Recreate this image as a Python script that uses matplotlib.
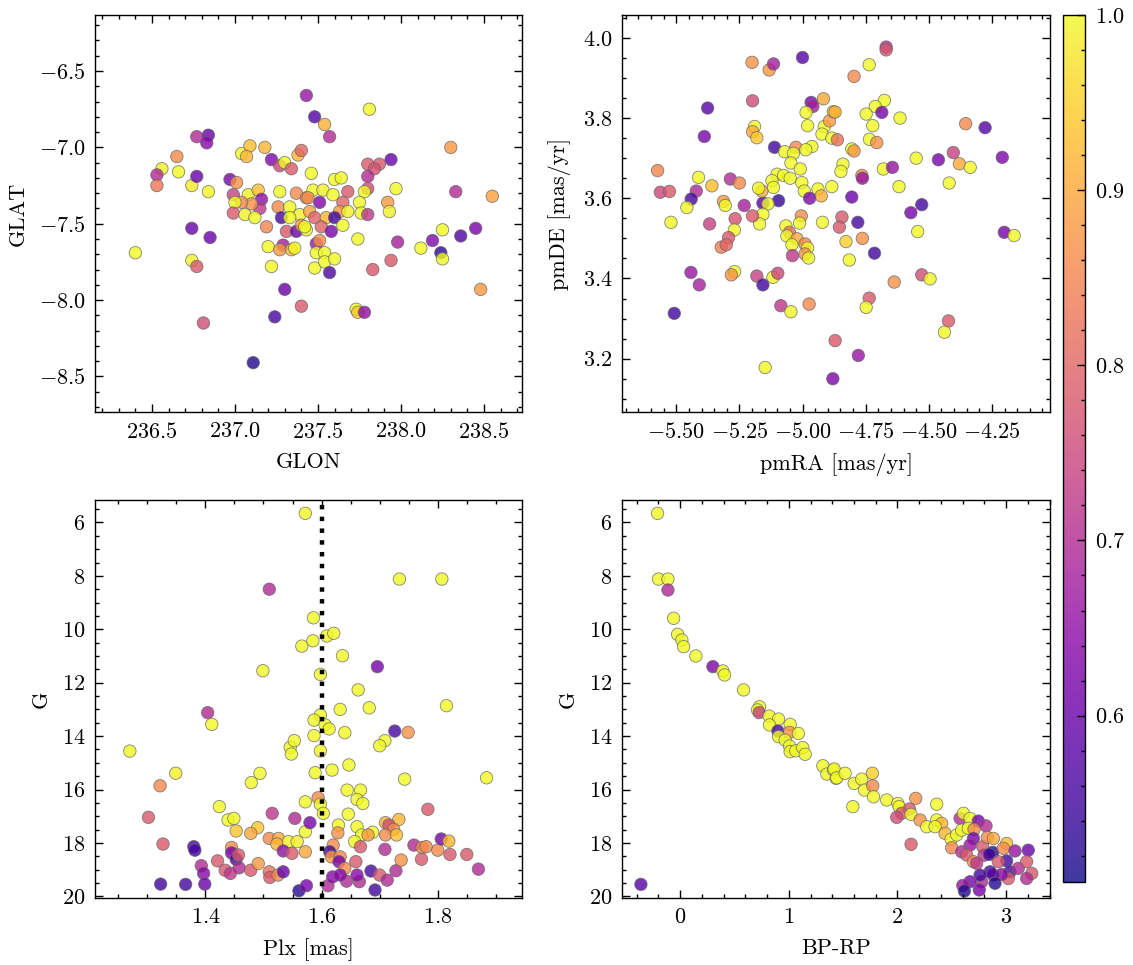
import numpy as np
import matplotlib
matplotlib.use("Agg")
import matplotlib.pyplot as plt
from matplotlib.ticker import MultipleLocator

# Serif look, ticks inside on all sides
plt.rcParams.update({
    "font.family": "serif",
    "font.serif": ["cmr10", "DejaVu Serif"],
    "mathtext.fontset": "cm",
    "axes.formatter.use_mathtext": True,
    "font.size": 8,
    "axes.linewidth": 0.5,
    "xtick.direction": "in",
    "ytick.direction": "in",
    "xtick.top": True,
    "ytick.right": True,
    "xtick.major.size": 3,
    "ytick.major.size": 3,
    "xtick.minor.size": 1.5,
    "ytick.minor.size": 1.5,
    "xtick.major.width": 0.5,
    "ytick.major.width": 0.5,
    "xtick.minor.width": 0.5,
    "ytick.minor.width": 0.5,
    "xtick.minor.visible": True,
    "ytick.minor.visible": True,
})

# ---- panel 1: sky position ----
glon = [237.43, 237.48, 237.54, 237.57, 237.81, 236.77, 236.84, 236.83, 236.65, 236.56,
        236.53, 236.53, 236.66, 236.74, 236.77, 236.84, 237.04, 237.09, 237.07, 237.18,
        237.22, 237.27, 237.30, 237.34, 237.38, 237.40, 236.97, 237.01, 236.99, 237.08,
        237.14, 237.16, 237.15, 237.10, 237.04, 237.00, 236.99, 237.06, 237.12, 237.27,
        237.37, 237.43, 237.26, 237.33, 237.39, 237.28, 237.19, 237.33, 237.31, 237.37,
        237.40, 237.43, 237.20, 237.29, 237.27, 237.34, 237.36, 237.22, 236.74, 236.85,
        236.40, 236.74, 236.77, 237.30, 237.40, 237.24, 236.81, 237.11, 237.46, 237.60,
        237.64, 237.47, 237.53, 237.44, 237.51, 237.59, 237.68, 237.65, 237.63, 237.68,
        237.45, 237.48, 237.55, 237.60, 237.52, 237.42, 237.65, 237.58, 237.49, 237.51,
        237.49, 237.54, 237.48, 237.54, 237.60, 237.57, 237.80, 237.87, 237.84, 237.94,
        237.80, 237.80, 237.78, 237.97, 237.92, 237.93, 237.75, 237.76, 237.80, 237.74,
        237.98, 237.94, 237.83, 237.73, 237.74, 237.78, 238.30, 238.33, 238.55, 238.25,
        238.36, 238.45, 238.12, 238.19, 238.24, 238.25, 238.48]
glat = [-6.66, -6.80, -6.85, -6.93, -6.75, -6.93, -6.92, -6.97, -7.06, -7.14,
        -7.18, -7.25, -7.16, -7.25, -7.19, -7.29, -7.04, -6.99, -7.06, -7.00,
        -7.08, -7.12, -7.10, -7.14, -7.05, -7.02, -7.21, -7.23, -7.31, -7.31,
        -7.28, -7.34, -7.40, -7.37, -7.36, -7.36, -7.43, -7.44, -7.46, -7.29,
        -7.30, -7.33, -7.39, -7.39, -7.44, -7.46, -7.52, -7.46, -7.55, -7.55,
        -7.51, -7.54, -7.65, -7.64, -7.67, -7.67, -7.66, -7.78, -7.53, -7.59,
        -7.69, -7.74, -7.78, -7.93, -8.04, -8.11, -8.15, -8.41, -7.17, -7.21,
        -7.20, -7.28, -7.28, -7.33, -7.36, -7.31, -7.29, -7.36, -7.42, -7.42,
        -7.42, -7.46, -7.46, -7.46, -7.52, -7.52, -7.51, -7.55, -7.63, -7.61,
        -7.69, -7.69, -7.79, -7.75, -7.73, -7.82, -7.11, -7.11, -7.14, -7.08,
        -7.19, -7.27, -7.29, -7.27, -7.36, -7.42, -7.36, -7.43, -7.44, -7.60,
        -7.62, -7.74, -7.80, -8.06, -8.08, -8.08, -7.00, -7.29, -7.32, -7.54,
        -7.58, -7.53, -7.66, -7.61, -7.69, -7.73, -7.93]
prob_pos = [0.66, 0.57, 0.91, 0.70, 1.00, 0.70, 0.60, 0.64, 0.86, 0.99,
            0.70, 0.83, 1.00, 0.98, 0.60, 1.00, 1.00, 0.93, 0.92, 0.92,
            0.63, 0.75, 1.00, 0.78, 0.92, 0.80, 0.62, 0.87, 0.74, 0.99,
            0.93, 0.65, 0.72, 0.87, 0.86, 1.00, 0.78, 0.99, 1.00, 1.00,
            0.86, 0.87, 0.86, 1.00, 0.99, 0.56, 0.85, 1.00, 0.78, 0.60,
            0.88, 1.00, 1.00, 0.68, 0.88, 0.92, 1.00, 1.00, 0.60, 0.60,
            1.00, 0.99, 0.78, 0.60, 0.78, 0.56, 0.76, 0.52, 1.00, 1.00,
            1.00, 1.00, 0.99, 0.86, 0.63, 1.00, 0.78, 0.80, 0.88, 0.99,
            0.89, 0.80, 0.92, 0.55, 0.80, 1.00, 1.00, 0.62, 0.66, 0.87,
            1.00, 1.00, 1.00, 1.00, 1.00, 0.57, 0.78, 0.78, 0.77, 0.60,
            0.70, 0.76, 1.00, 1.00, 0.88, 0.99, 1.00, 1.00, 0.72, 1.00,
            0.68, 0.78, 0.78, 1.00, 0.94, 0.65, 0.88, 0.70, 0.89, 1.00,
            0.57, 0.62, 1.00, 0.63, 0.53, 1.00, 0.88]

# ---- panel 2: proper motions ----
pmra = [-5.200, -5.132, -5.115, -5.000, -5.198, -5.376, -5.389, -4.966, -4.959, -4.917,
        -4.986, -4.980, -5.190, -5.198, -5.181, -5.111, -5.026, -5.071, -5.036, -4.963,
        -4.987, -4.914, -4.893, -4.923, -4.878, -5.046, -5.009, -5.101, -5.075, -5.049,
        -5.121, -5.115, -5.003, -4.993, -4.939, -4.926, -4.884, -4.972, -5.095, -5.157,
        -5.161, -5.174, -5.137, -5.157, -5.170, -5.231, -5.198, -5.313, -5.306, -5.286,
        -5.250, -5.359, -5.412, -5.421, -5.441, -5.458, -5.574, -5.563, -5.527, -5.521,
        -5.368, -5.267, -5.270, -5.293, -5.322, -5.302, -5.066, -5.052, -5.062, -5.022,
        -5.042, -5.005, -5.012, -4.990, -4.980, -4.990, -4.976, -5.040, -4.921, -5.442,
        -5.409, -5.269, -5.282, -5.181, -5.157, -5.117, -5.098, -5.508, -5.086, -5.046,
        -4.974, -5.148, -4.871, -4.880, -4.669, -4.669, -4.736, -4.796, -4.676, -4.712,
        -4.748, -4.686, -4.614, -4.722, -4.735, -4.706, -4.871, -4.884, -4.862, -4.805,
        -4.796, -4.840, -4.848, -4.765, -4.763, -4.680, -4.644, -4.618, -4.805, -4.844,
        -4.854, -4.781, -4.828, -4.763, -4.815, -4.715, -4.550, -4.462, -4.403, -4.379,
        -4.336, -4.419, -4.354, -4.277, -4.209, -4.571, -4.528, -4.544, -4.201, -4.162,
        -4.528, -4.495, -4.637, -4.736, -4.748, -4.422, -4.438, -4.779]
pmde = [3.939, 3.920, 3.935, 3.951, 3.843, 3.825, 3.754, 3.839, 3.829, 3.848,
        3.814, 3.781, 3.779, 3.766, 3.751, 3.727, 3.727, 3.716, 3.712, 3.729,
        3.721, 3.779, 3.793, 3.760, 3.816, 3.688, 3.673, 3.660, 3.657, 3.650,
        3.644, 3.627, 3.639, 3.618, 3.623, 3.606, 3.629, 3.600, 3.594, 3.588,
        3.618, 3.625, 3.586, 3.560, 3.536, 3.582, 3.556, 3.592, 3.582, 3.648,
        3.638, 3.631, 3.652, 3.618, 3.598, 3.577, 3.669, 3.615, 3.617, 3.540,
        3.536, 3.549, 3.521, 3.502, 3.478, 3.484, 3.531, 3.515, 3.506, 3.499,
        3.484, 3.556, 3.538, 3.486, 3.476, 3.461, 3.451, 3.457, 3.540, 3.415,
        3.384, 3.417, 3.409, 3.406, 3.384, 3.403, 3.413, 3.313, 3.332, 3.317,
        3.336, 3.178, 3.245, 3.150, 3.977, 3.970, 3.933, 3.904, 3.844, 3.829,
        3.810, 3.814, 3.800, 3.781, 3.747, 3.739, 3.815, 3.750, 3.746, 3.723,
        3.718, 3.685, 3.667, 3.657, 3.650, 3.673, 3.677, 3.629, 3.603, 3.553,
        3.528, 3.540, 3.492, 3.500, 3.446, 3.463, 3.700, 3.696, 3.714, 3.686,
        3.677, 3.638, 3.786, 3.776, 3.702, 3.564, 3.584, 3.517, 3.515, 3.507,
        3.409, 3.399, 3.391, 3.351, 3.328, 3.294, 3.266, 3.208]
prob_pm = [0.87, 0.88, 0.68, 0.58, 0.76, 0.58, 0.62, 0.62, 0.68, 0.90,
           1.00, 1.00, 1.00, 0.90, 0.94, 0.55, 0.86, 1.00, 1.00, 1.00,
           1.00, 1.00, 0.88, 1.00, 0.94, 1.00, 1.00, 1.00, 1.00, 1.00,
           1.00, 1.00, 1.00, 1.00, 1.00, 0.91, 1.00, 0.63, 0.54, 0.58,
           0.90, 1.00, 1.00, 1.00, 1.00, 0.68, 0.78, 0.88, 1.00, 0.70,
           0.86, 0.93, 1.00, 0.70, 0.56, 1.00, 0.85, 0.75, 0.78, 1.00,
           0.74, 0.77, 1.00, 0.78, 0.84, 0.80, 1.00, 0.82, 1.00, 0.90,
           1.00, 0.86, 1.00, 0.86, 1.00, 0.87, 1.00, 0.72, 1.00, 0.66,
           0.68, 1.00, 0.87, 0.74, 0.55, 1.00, 0.75, 0.55, 0.72, 1.00,
           0.86, 1.00, 0.78, 0.63, 0.70, 0.78, 1.00, 0.86, 1.00, 1.00,
           1.00, 0.62, 1.00, 1.00, 1.00, 0.87, 0.91, 1.00, 0.82, 1.00,
           0.88, 1.00, 1.00, 0.87, 0.66, 1.00, 0.66, 1.00, 0.60, 0.78,
           0.78, 0.56, 0.95, 0.87, 1.00, 0.55, 1.00, 0.62, 0.74, 0.90,
           1.00, 1.00, 0.86, 0.58, 0.63, 0.62, 0.56, 1.00, 0.62, 1.00,
           0.76, 1.00, 0.87, 0.78, 1.00, 0.78, 1.00, 0.66]

# ---- panel 3: parallax vs magnitude ----
plx = [1.572, 1.510, 1.566, 1.499, 1.404, 1.411, 1.270, 1.349, 1.322, 1.494,
       1.479, 1.546, 1.553, 1.548, 1.572, 1.424, 1.302, 1.515, 1.554, 1.439,
       1.449, 1.453, 1.490, 1.478, 1.572, 1.327, 1.380, 1.382, 1.445, 1.445,
       1.453, 1.457, 1.510, 1.526, 1.523, 1.543, 1.558, 1.534, 1.549, 1.572,
       1.421, 1.434, 1.443, 1.393, 1.397, 1.458, 1.478, 1.491, 1.510, 1.511,
       1.525, 1.534, 1.323, 1.366, 1.399, 1.561, 1.574, 1.734, 1.807, 1.586,
       1.585, 1.609, 1.621, 1.636, 1.696, 1.598, 1.663, 1.632, 1.682, 1.815,
       1.598, 1.587, 1.606, 1.613, 1.587, 1.640, 1.598, 1.726, 1.749, 1.709,
       1.700, 1.647, 1.618, 1.589, 1.743, 1.884, 1.644, 1.667, 1.661, 1.671,
       1.594, 1.598, 1.646, 1.603, 1.783, 1.580, 1.629, 1.661, 1.710, 1.733,
       1.716, 1.724, 1.710, 1.729, 1.688, 1.669, 1.680, 1.628, 1.657, 1.667,
       1.709, 1.620, 1.614, 1.617, 1.632, 1.630, 1.640, 1.659, 1.685, 1.700,
       1.713, 1.728, 1.737, 1.759, 1.773, 1.780, 1.772, 1.800, 1.806, 1.819,
       1.821, 1.850, 1.870, 1.643, 1.665, 1.692, 1.611, 1.619, 1.632, 1.661]
g_plx = [5.66, 8.50, 10.63, 11.55, 13.12, 13.56, 14.56, 15.39, 15.86, 15.39,
         15.74, 14.42, 14.17, 14.67, 16.46, 16.64, 17.04, 16.89, 17.08, 17.14,
         17.08, 17.55, 17.43, 17.64, 17.58, 18.04, 18.14, 18.27, 18.17, 18.37,
         18.61, 18.45, 17.83, 17.83, 18.04, 17.95, 17.95, 18.30, 18.39, 18.33,
         18.67, 19.02, 19.14, 18.85, 19.14, 18.93, 19.02, 18.77, 19.08, 19.29,
         19.20, 19.08, 19.54, 19.55, 19.54, 19.79, 19.60, 8.12, 8.12, 9.57,
         10.43, 10.25, 10.15, 10.99, 11.40, 11.69, 12.27, 13.00, 12.94, 12.86,
         13.21, 13.40, 13.58, 13.73, 13.98, 13.87, 14.55, 13.81, 13.86, 14.17,
         14.36, 15.08, 15.27, 15.37, 15.61, 15.56, 16.02, 16.02, 16.37, 16.52,
         16.31, 16.55, 16.92, 16.89, 16.74, 17.24, 17.33, 17.39, 17.24, 17.12,
         17.33, 17.49, 17.70, 17.70, 17.60, 17.70, 17.70, 17.62, 17.95, 18.14,
         18.24, 18.08, 18.33, 18.52, 18.52, 18.70, 18.95, 18.70, 19.05, 19.20,
         19.39, 19.04, 18.64, 18.08, 18.17, 18.14, 18.61, 18.27, 17.85, 17.93,
         18.43, 18.43, 18.98, 19.43, 19.45, 19.76, 19.60, 19.27, 19.20, 19.20]
prob_plx = [1.00, 0.70, 1.00, 1.00, 0.70, 1.00, 1.00, 0.99, 0.86, 1.00,
            1.00, 1.00, 1.00, 1.00, 1.00, 1.00, 0.78, 0.72, 0.70, 1.00,
            1.00, 0.94, 0.94, 0.90, 1.00, 0.78, 0.56, 0.55, 0.86, 0.62,
            0.55, 0.78, 0.86, 0.90, 0.92, 0.99, 0.99, 0.65, 0.78, 0.90,
            0.78, 0.78, 0.72, 0.70, 0.64, 0.70, 0.78, 0.88, 0.82, 0.78,
            0.86, 0.60, 0.55, 0.56, 0.60, 0.53, 0.62, 1.00, 1.00, 1.00,
            1.00, 1.00, 1.00, 1.00, 0.62, 1.00, 1.00, 1.00, 1.00, 1.00,
            1.00, 1.00, 1.00, 1.00, 1.00, 1.00, 1.00, 0.56, 0.87, 1.00,
            1.00, 1.00, 1.00, 1.00, 1.00, 1.00, 1.00, 1.00, 1.00, 1.00,
            0.86, 1.00, 1.00, 1.00, 0.78, 0.62, 1.00, 1.00, 0.91, 0.92,
            0.76, 0.86, 0.86, 0.93, 1.00, 1.00, 0.88, 0.87, 1.00, 0.78,
            0.70, 0.86, 0.55, 0.88, 0.86, 0.62, 0.86, 0.78, 0.56, 0.78,
            0.70, 0.70, 0.87, 0.70, 0.86, 0.86, 0.78, 0.86, 0.62, 0.92,
            0.78, 0.78, 0.70, 0.70, 0.70, 0.55, 0.70, 0.64, 0.64, 0.64]
plx_ref = 1.6

# ---- panel 4: colour-magnitude diagram ----
bprp = [-0.209, -0.200, -0.113, -0.113, -0.061, -0.024, 0.015, 0.031, 0.144, 0.301,
        0.392, 0.408, 0.583, 0.730, 0.711, 0.727, 0.819, 0.905, 0.822, 0.899,
        1.012, 1.006, 1.088, 0.905, 0.966, 1.006, 1.012, 1.064, 1.128, 1.150,
        1.313, 1.350, 1.411, 1.435, -0.362, 1.417, 1.441, 1.518, 1.601, 1.671,
        1.696, 1.769, 1.772, 1.779, 1.589, 1.901, 2.003, 2.015, 2.168, 2.110,
        2.039, 1.993, 2.125, 2.361, 2.208, 2.269, 2.361, 2.407, 2.346, 2.438,
        2.493, 2.545, 2.125, 2.499, 2.576, 2.607, 2.668, 2.591, 2.652, 2.744,
        2.815, 2.705, 2.699, 2.668, 2.591, 2.637, 2.699, 2.785, 2.797, 2.827,
        2.883, 2.877, 2.846, 3.005, 2.975, 3.082, 3.204, 3.005, 2.928, 3.036,
        3.112, 3.189, 3.236, 3.189, 3.020, 2.959, 2.883, 2.852, 2.898, 2.775,
        2.760, 2.668, 2.601, 2.616, 2.753, 2.729]
g_cmd = [5.66, 8.12, 8.12, 8.53, 9.59, 10.19, 10.40, 10.65, 11.00, 11.40,
         11.56, 11.71, 12.27, 12.90, 13.02, 13.12, 13.25, 13.36, 13.58, 13.81,
         13.56, 13.86, 13.90, 14.02, 14.15, 14.37, 14.58, 14.55, 14.43, 14.68,
         15.11, 15.42, 15.27, 15.58, 19.55, 15.23, 15.56, 15.39, 15.77, 15.61,
         16.02, 15.39, 15.86, 16.27, 16.64, 16.39, 16.52, 16.64, 16.33, 16.73,
         16.89, 17.04, 16.93, 16.55, 17.14, 17.39, 17.14, 17.27, 17.39, 17.64,
         17.86, 17.70, 18.05, 18.18, 17.08, 16.89, 17.08, 17.52, 17.45, 17.18,
         17.36, 17.49, 17.83, 18.08, 18.33, 18.45, 18.70, 18.14, 18.46, 17.79,
         17.83, 18.35, 18.43, 18.02, 18.20, 18.30, 18.27, 18.67, 18.70, 19.08,
         18.95, 18.70, 19.14, 19.33, 19.33, 19.18, 19.20, 19.08, 19.51, 19.45,
         19.20, 19.45, 19.59, 19.80, 19.76, 18.76]
prob_cmd = [1.00, 1.00, 1.00, 0.70, 1.00, 1.00, 1.00, 1.00, 1.00, 0.63,
            1.00, 1.00, 1.00, 1.00, 1.00, 0.74, 1.00, 1.00, 1.00, 0.56,
            1.00, 0.87, 1.00, 1.00, 1.00, 1.00, 1.00, 1.00, 1.00, 1.00,
            1.00, 1.00, 1.00, 1.00, 0.58, 1.00, 1.00, 1.00, 1.00, 1.00,
            1.00, 0.95, 0.86, 1.00, 1.00, 1.00, 1.00, 1.00, 0.87, 0.78,
            0.78, 0.76, 1.00, 1.00, 0.87, 1.00, 1.00, 0.92, 1.00, 0.92,
            1.00, 1.00, 0.78, 0.86, 0.70, 1.00, 1.00, 1.00, 1.00, 0.62,
            0.70, 0.86, 0.62, 0.66, 0.70, 0.78, 0.86, 0.78, 0.72, 0.86,
            0.90, 0.52, 0.55, 0.93, 0.86, 0.66, 0.60, 0.55, 0.78, 0.55,
            0.70, 0.78, 0.78, 0.70, 0.78, 0.64, 0.62, 0.56, 0.52, 0.70,
            0.56, 0.62, 0.66, 0.52, 0.62, 0.72]

PROB_RANGE = (0.505, 1.0)


def scatter(ax, x, y, c):
    return ax.scatter(x, y, c=c, cmap="plasma", vmin=PROB_RANGE[0], vmax=PROB_RANGE[1],
                      s=20, alpha=0.8, edgecolors="0.4", linewidths=0.3)


def main():
    fig = plt.figure(figsize=(5.665, 4.825), dpi=200)
    W, H = 1133, 965

    def box(l, t, r, b):
        return [l / W, 1 - b / H, (r - l) / W, (b - t) / H]

    ax1 = fig.add_axes(box(95, 15, 522, 412))
    ax2 = fig.add_axes(box(622, 15, 1050, 412))
    ax3 = fig.add_axes(box(95, 500, 522, 898))
    ax4 = fig.add_axes(box(622, 500, 1050, 898))
    cax = fig.add_axes(box(1063, 15, 1085, 882))

    sc = scatter(ax1, glon, glat, prob_pos)
    ax1.set_xlim(236.157, 238.729)
    ax1.set_ylim(-8.733, -6.133)
    ax1.xaxis.set_major_locator(MultipleLocator(0.5))
    ax1.xaxis.set_minor_locator(MultipleLocator(0.1))
    ax1.yaxis.set_major_locator(MultipleLocator(0.5))
    ax1.yaxis.set_minor_locator(MultipleLocator(0.1))
    ax1.set_xlabel("GLON")
    ax1.set_ylabel("GLAT")

    scatter(ax2, pmra, pmde, prob_pm)
    ax2.set_xlim(-5.715, -4.020)
    ax2.set_ylim(3.067, 4.057)
    ax2.xaxis.set_major_locator(MultipleLocator(0.25))
    ax2.xaxis.set_minor_locator(MultipleLocator(0.05))
    ax2.yaxis.set_major_locator(MultipleLocator(0.2))
    ax2.yaxis.set_minor_locator(MultipleLocator(0.05))
    ax2.set_xlabel("pmRA [mas/yr]")
    ax2.set_ylabel("pmDE [mas/yr]")

    scatter(ax3, plx, g_plx, prob_plx)
    ax3.axvline(plx_ref, color="k", ls=":", lw=1.6)
    ax3.set_xlim(1.210, 1.945)
    ax3.set_ylim(20.06, 5.16)
    ax3.xaxis.set_major_locator(MultipleLocator(0.2))
    ax3.xaxis.set_minor_locator(MultipleLocator(0.05))
    ax3.yaxis.set_major_locator(MultipleLocator(2))
    ax3.yaxis.set_minor_locator(MultipleLocator(0.5))
    ax3.set_xlabel("Plx [mas]")
    ax3.set_ylabel("G")

    scatter(ax4, bprp, g_cmd, prob_cmd)
    ax4.set_xlim(-0.536, 3.404)
    ax4.set_ylim(20.06, 5.16)
    ax4.xaxis.set_major_locator(MultipleLocator(1))
    ax4.xaxis.set_minor_locator(MultipleLocator(0.2))
    ax4.yaxis.set_major_locator(MultipleLocator(2))
    ax4.yaxis.set_minor_locator(MultipleLocator(0.5))
    ax4.set_xlabel("BP-RP")
    ax4.set_ylabel("G")

    cb = fig.colorbar(sc, cax=cax)
    cb.solids.set_alpha(0.8)
    cb.outline.set_linewidth(0.5)
    cb.ax.yaxis.set_major_locator(MultipleLocator(0.1))
    cb.ax.yaxis.set_minor_locator(MultipleLocator(0.02))
    cb.ax.tick_params(which="both", direction="in")

    fig.savefig("out.png", dpi=200)


if __name__ == "__main__":
    main()
